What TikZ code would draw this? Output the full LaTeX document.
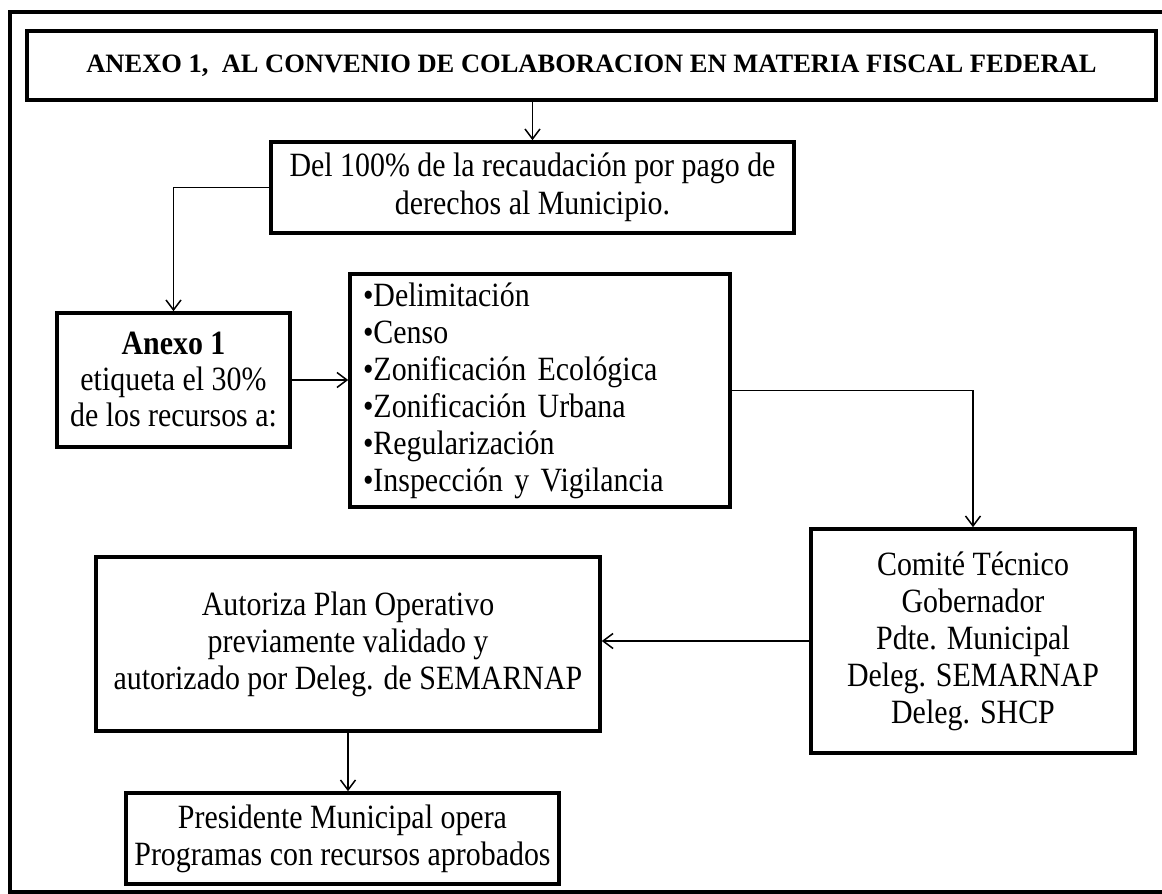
\documentclass[tikz,border=0pt]{standalone}
\usepackage{fontspec}
\setmainfont{Liberation Serif}[FakeStretch=0.88]
\newfontfamily\titulofont{Liberation Serif}
\usetikzlibrary{arrows.meta}
\tikzstyle{caja}=[draw, line width=3.6pt, align=center, inner sep=0pt, font=\fontsize{34}{37}\selectfont]
\tikzstyle{flecha}=[line width=1.5pt, -{Straight Barb[length=10pt,width=15pt,line width=1.5pt]}]

\begin{document}
\begin{tikzpicture}[x=1pt, y=-1pt]
	\useasboundingbox (0,0) rectangle (1162,894);
	\draw[line width=3.6pt] (1162,12) -- (10,12) -- (10,892) -- (1162,892);
	\node[caja, minimum width=1129pt, minimum height=69pt, font=\titulofont\bfseries\fontsize{26.5}{30}\selectfont] (titulo) at (591.5,65.5) {ANEXO 1,\ \ AL CONVENIO DE COLABORACION EN MATERIA FISCAL FEDERAL};
	\node[caja, minimum width=523pt, minimum height=91pt, font=\fontsize{34}{38}\selectfont] (derechos) at (532.5,187.5) {Del 100\% de la recaudación por pago de\\derechos al Municipio.};
	\node[caja, minimum width=233pt, minimum height=134pt, font=\fontsize{34}{36}\selectfont] (anexo) at (173.5,380) {\textbf{Anexo 1}\\etiqueta el 30\%\\de los recursos a:};
	\node[caja, minimum width=380pt, minimum height=233pt, align=left, text width=354pt, inner xsep=13pt] (lista) at (540,390.5) {•Delimitación\\•Censo\\•Zonificación Ecológica\\•Zonificación Urbana\\•Regularización\\•Inspección y Vigilancia};
	\node[caja, minimum width=324pt, minimum height=224pt] (comite) at (973,641) {Comité Técnico\\Gobernador\\Pdte. Municipal\\Deleg. SEMARNAP\\Deleg. SHCP};
	\node[caja, minimum width=504pt, minimum height=174pt] (autoriza) at (348,644) {Autoriza Plan Operativo\\previamente validado y\\autorizado por Deleg. de SEMARNAP};
	\node[caja, minimum width=433pt, minimum height=91pt] (presidente) at (342.5,838.5) {Presidente Municipal opera\\Programas con recursos aprobados};
	% conectores
	\draw[flecha] (derechos.north |- titulo.south) -- (derechos.north);
	\draw[flecha] (derechos.west) -| (anexo.north);
	\draw[flecha] (anexo.east) -- (anexo.east -| lista.west);
	\draw[flecha] (lista.east) -| (comite.north);
	\draw[flecha] (comite.west) -- (comite.west -| autoriza.east);
	\draw[flecha] (autoriza.south) -- (autoriza.south |- presidente.north);
\end{tikzpicture}
\end{document}
